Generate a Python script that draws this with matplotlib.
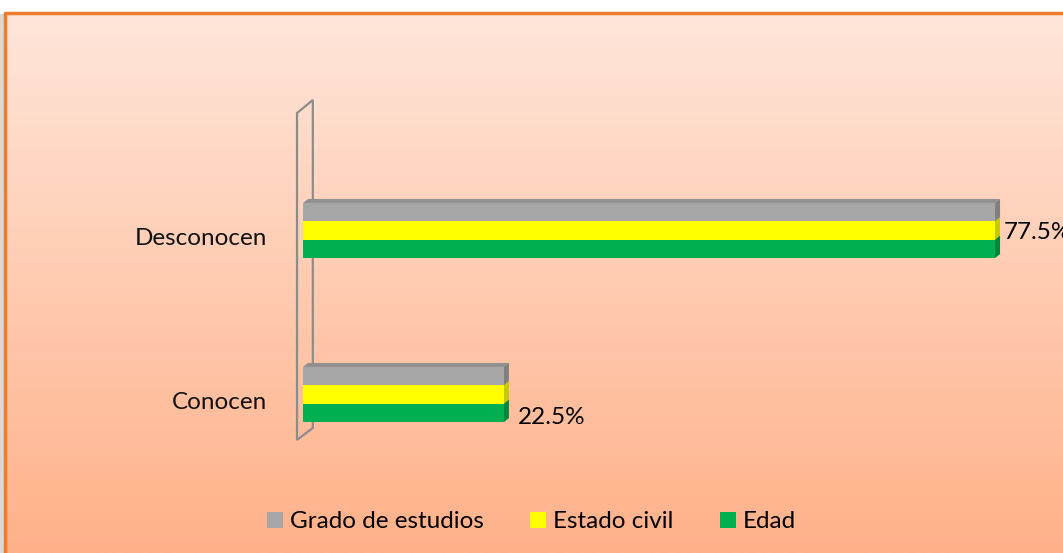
import numpy as np
import matplotlib.pyplot as plt
from matplotlib.patches import Polygon, Rectangle
from matplotlib.colors import LinearSegmentedColormap

categories = ['Conocen', 'Desconocen']
series = ['Grado de estudios', 'Estado civil', 'Edad']
grado = [22.5, 77.5]
estado = [22.5, 77.5]
edad = [22.5, 77.5]
labels = ['22.5%', '77.5%']
colors = ['#A6A6A6', '#FFFF00', '#00B050']
dark = ['#7F7F7F', '#C8C800', '#00853C']

plt.rcParams['font.family'] = ['Lato', 'DejaVu Sans']

W, H = 1063, 553
fig = plt.figure(figsize=(W / 100, H / 100), dpi=100)

# background gradient + border
bg = fig.add_axes([0, 0, 1, 1])
bg.set_xlim(0, W)
bg.set_ylim(H, 0)
bg.axis('off')
cmap = LinearSegmentedColormap.from_list('peach', ['#FFE6DA', '#FFB189'])
grad = np.linspace(0, 1, 256).reshape(-1, 1)
bg.imshow(grad, cmap=cmap, aspect='auto', extent=[5, W, H, 13])
bg.add_patch(Rectangle((0, 14), 4, H, color='#D9D9D9', lw=0))
bg.plot([5, 5, W], [H, 13, 13], color='#F07C2A', lw=2.5, solid_capstyle='butt')

ax = fig.add_axes([303 / W, 1 - 476.5 / H, 759 / W, 328 / H])
ax.set_xlim(0, 85)
ax.set_ylim(-0.5, 1.5)
ax.axis('off')

y = np.arange(len(categories))
h = 0.112
offs = [h, 0, -h]
data = [grado, estado, edad]

# back wall (3D style)
wall = Polygon([(-0.67, -0.277), (-0.67, 1.716), (1.1, 1.796), (1.1, -0.204)],
               closed=True, fill=False, edgecolor='#8C8C8C', lw=1.6, clip_on=False)
ax.add_patch(wall)

d = np.array([5, 4])
for vals, off, c, dc, name in zip(data, offs, colors, dark, series):
    bars = ax.barh(y + off, vals, height=h, color=c, label=name, zorder=3)
    for b in bars:
        x0, y0 = b.get_x(), b.get_y()
        x1, y1 = x0 + b.get_width(), y0 + b.get_height()
        disp = ax.transData.transform(np.array([(x1, y0), (x1, y1)]))
        side = Polygon(ax.transData.inverted().transform(
            np.vstack([disp[0], disp[1], disp[1] + d, disp[0] + d])),
            closed=True, color=dc, zorder=2, lw=0)
        ax.add_patch(side)
        if off == h:
            tpts = ax.transData.transform(np.array([(x0, y1), (x1, y1)]))
            top = Polygon(ax.transData.inverted().transform(
                np.vstack([tpts[0], tpts[1], tpts[1] + d, tpts[0] + d])),
                closed=True, color='#909090', zorder=2, lw=0)
            ax.add_patch(top)

# category labels
for yi, cat in zip(y, categories):
    ax.text(-4, yi - 0.05, cat, ha='right', va='center', fontsize=17.5, color='#111111')

# value labels
ax.text(edad[1] + 1.0, y[1] - 0.01, labels[1], ha='left', va='center', fontsize=17.5)
ax.text(edad[0] + 1.6, y[0] - 0.14, labels[0], ha='left', va='center', fontsize=17.5)

leg = fig.legend(loc='center', bbox_to_anchor=(0.5, 1 - 522 / H), ncol=3, frameon=False,
                 fontsize=17.5, handlelength=0.65, handleheight=0.65, handletextpad=0.3,
                 columnspacing=1.9)

plt.savefig('out.png', dpi=100)
